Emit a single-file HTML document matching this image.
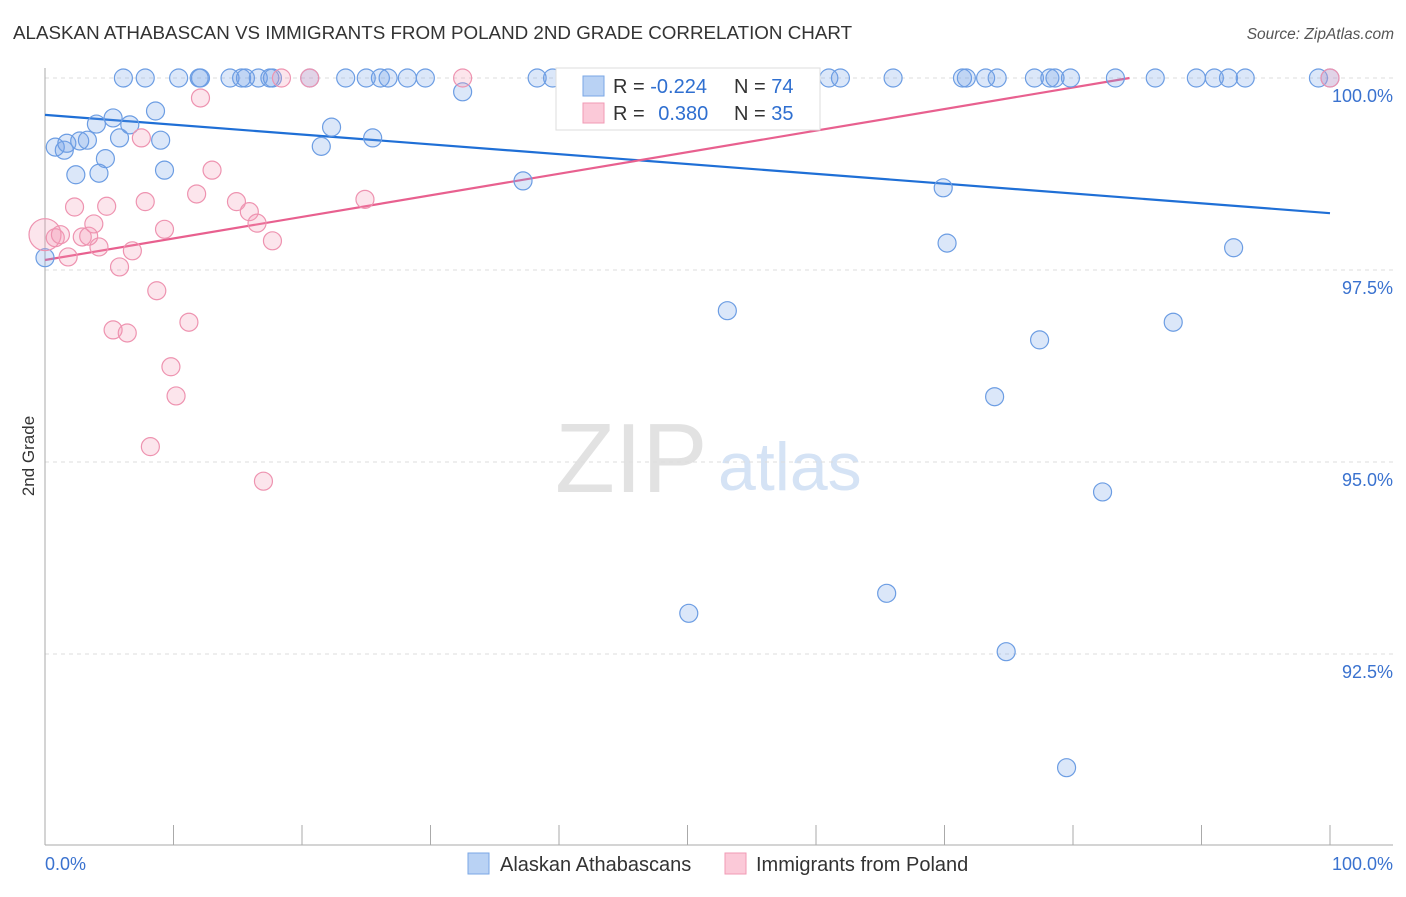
<!DOCTYPE html>
<html><head><meta charset="utf-8"><style>
body{margin:0;background:#fff;font-family:"Liberation Sans",sans-serif;}
svg text{font-family:"Liberation Sans",sans-serif;}
</style></head><body>
<svg id="chart" width="1406" height="892">
<text x="13" y="39" font-size="18.8" fill="#333">ALASKAN ATHABASCAN VS IMMIGRANTS FROM POLAND 2ND GRADE CORRELATION CHART</text>
<text x="1394" y="39" font-size="15.5" fill="#555" font-style="italic" text-anchor="end">Source: ZipAtlas.com</text>
<text x="555" y="492" font-size="98" fill="#e2e2e2" font-family="Liberation Serif">ZIP</text>
<text x="718" y="490" font-size="68" fill="#d5e3f5">atlas</text>
<text transform="translate(34,456) rotate(-90)" font-size="17" fill="#333" text-anchor="middle">2nd Grade</text>
<g id="grid"></g><g id="lines"></g><g id="pts"></g>
<g>
<rect x="556" y="68" width="264" height="62" fill="#fff" stroke="#ddd"/>
<rect x="583" y="76" width="21" height="20" fill="#b9d2f4" stroke="#7aa7e6"/>
<rect x="583" y="103" width="21" height="20" fill="#fbc9d8" stroke="#f09ab4"/>
<text x="613" y="93" font-size="20" fill="#333">R = <tspan fill="#2f6fd0">-0.224</tspan></text>
<text x="734" y="93" font-size="20" fill="#333">N = <tspan fill="#2f6fd0">74</tspan></text>
<text x="613" y="120" font-size="20" fill="#333">R = <tspan fill="#2f6fd0" dx="8">0.380</tspan></text>
<text x="734" y="120" font-size="20" fill="#333">N = <tspan fill="#2f6fd0">35</tspan></text>
</g>
<g>
<rect x="468" y="853" width="21" height="21" fill="#b9d2f4" stroke="#7aa7e6"/>
<text x="500" y="871" font-size="20" fill="#333">Alaskan Athabascans</text>
<rect x="725" y="853" width="21" height="21" fill="#fbc9d8" stroke="#f09ab4"/>
<text x="756" y="871" font-size="20" fill="#333">Immigrants from Poland</text>
</g>
</svg>
<script>
const yTicks=[100,97.5,95,92.5];
const yTickLabels=["100.0%","97.5%","95.0%","92.5%"];
const xTicks=[0,10,20,30,40,50,60,70,80,90,100];
const blueX=[6.1,7.8,10.4,12.0,12.1,14.4,15.3,15.6,16.6,17.5,17.7,20.6,23.4,25.0,26.1,26.7,28.2,29.6,38.3,39.5,41.2,57.8,61.0,61.9,66.0,71.4,71.7,73.2,74.1,77.0,78.2,78.6,79.8,83.3,86.4,89.6,91.0,92.1,93.4,99.1,100,
32.5,0,0.8,1.5,1.7,2.4,2.7,3.3,4.2,4.0,4.7,5.3,5.8,6.6,8.6,9.0,9.3,21.5,22.3,25.5,37.2,69.9,70.2,53.1,77.4,87.8,73.9,82.3,65.5,50.1,74.8,79.5,92.5];
const blueY=[100,100,100,100,100,100,100,100,100,100,100,100,100,100,100,100,100,100,100,100,100,100,100,100,100,100,100,100,100,100,100,100,100,100,100,100,100,100,100,100,100,
99.82,97.66,99.10,99.06,99.15,98.74,99.18,99.19,98.76,99.40,98.95,99.48,99.22,99.39,99.57,99.19,98.80,99.11,99.36,99.22,98.66,98.57,97.85,96.97,96.59,96.82,95.85,94.61,93.29,93.03,92.53,91.02,97.79];
const pinkX=[0,0.8,1.2,1.8,2.3,2.9,3.4,3.8,4.2,4.8,5.3,5.8,6.4,6.8,7.5,7.8,8.2,8.7,9.3,9.8,10.2,11.2,11.8,12.1,13.0,14.9,15.9,16.5,17.0,17.7,18.4,20.6,24.9,32.5,100];
const pinkY=[97.96,97.92,97.96,97.67,98.32,97.93,97.94,98.10,97.80,98.33,96.72,97.54,96.68,97.75,99.22,98.39,95.20,97.23,98.03,96.24,95.86,96.82,98.49,99.74,98.80,98.39,98.26,98.11,94.75,97.88,100,100,98.42,100,100];
const blueTrendX=[0,100];
const blueTrendY=[99.52,98.24];
const pinkTrendX=[0,84.4];
const pinkTrendY=[97.63,100];

const X0=45,X1=1330,YTOP=78,PXPER=76.8;
const sx=v=>X0+v/100*(X1-X0);
const sy=v=>YTOP+(100-v)*PXPER;
const NS="http://www.w3.org/2000/svg";
function mk(tag,attrs,parent){const e=document.createElementNS(NS,tag);for(const k in attrs)e.setAttribute(k,attrs[k]);parent.appendChild(e);return e;}
const grid=document.getElementById('grid'),lines=document.getElementById('lines'),pts=document.getElementById('pts');
yTicks.forEach((t,i)=>{
 const l=mk('line',{x1:X0,x2:1393,y1:sy(t),y2:sy(t),stroke:'#ddd','stroke-dasharray':'4,4'},grid);
 
 
 const tx=mk('text',{x:1393,y:sy(t)+24,'font-size':18,fill:'#3a72cf','text-anchor':'end'},grid);
 tx.textContent=yTickLabels[i];
 
 
});
const ax=mk('line',{x1:X0,x2:X0,y1:68,y2:845,stroke:'#aaa'},grid);


const bx=mk('line',{x1:X0,x2:1393,y1:845,y2:845,stroke:'#aaa'},grid);


xTicks.forEach(t=>{
 const l=mk('line',{x1:sx(t),x2:sx(t),y1:825,y2:845,stroke:'#aaa'},grid);
 
 
});
const xl0=mk('text',{x:45,y:870,'font-size':18,fill:'#3a72cf'},grid);xl0.textContent='0.0%';


const xl1=mk('text',{x:1393,y:870,'font-size':18,fill:'#3a72cf','text-anchor':'end'},grid);xl1.textContent='100.0%';


function dots(xs,ys,fill,stroke,name){
 xs.forEach((x,i)=>{
  const c=mk('circle',{cx:sx(x),cy:sy(ys[i]),r:(name==='point-poland'&&i===0)?16:9,fill:fill,stroke:stroke,'stroke-width':1.2},pts);
  
  
 });
}
dots(blueX,blueY,'rgba(110,160,232,0.25)','#6c9de3','point-alaskan');
dots(pinkX,pinkY,'rgba(244,150,180,0.25)','#ee93b0','point-poland');
const lb=mk('line',{x1:sx(blueTrendX[0]),y1:sy(blueTrendY[0]),x2:sx(blueTrendX[1]),y2:sy(blueTrendY[1]),stroke:'#1f6fd6','stroke-width':2.2},lines);


const lp=mk('line',{x1:sx(pinkTrendX[0]),y1:sy(pinkTrendY[0]),x2:sx(pinkTrendX[1]),y2:sy(pinkTrendY[1]),stroke:'#e8608f','stroke-width':2.2},lines);


</script>
</body></html>
